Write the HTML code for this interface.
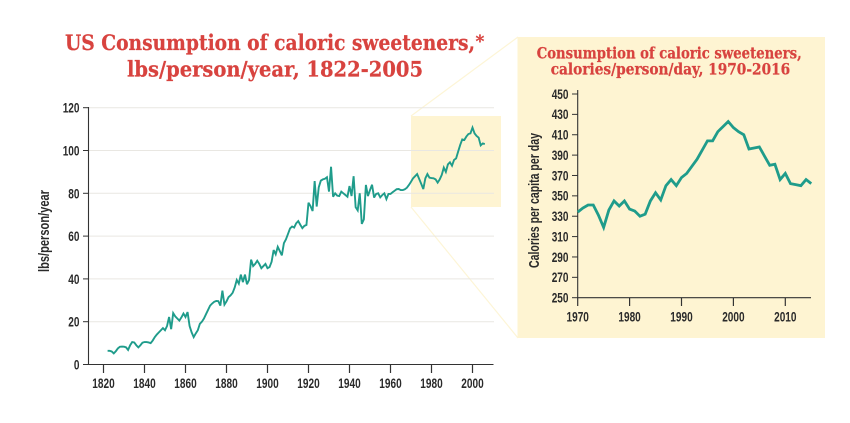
<!DOCTYPE html>
<html lang="en">
<head>
<meta charset="utf-8">
<title>US consumption of caloric sweeteners</title>
<style>
html,body{margin:0;padding:0;background:#fff;}
svg{display:block;}
.tick{font-family:"Liberation Sans",sans-serif;font-weight:700;fill:#2a2a2a;}
.ttl{font-family:"DejaVu Serif","Liberation Serif",serif;font-weight:700;fill:#d8433f;stroke:#d8433f;stroke-width:.25;}
</style>
</head>
<body>
<svg id="chart" width="850" height="423" viewBox="0 0 850 423" xmlns="http://www.w3.org/2000/svg">
  <rect x="0" y="0" width="850" height="423" fill="#ffffff"/>
  <line x1="411" y1="116" x2="518" y2="37" stroke="#fdf5d6" stroke-width="1.2"/>
  <line x1="411" y1="207" x2="518" y2="338" stroke="#fdf5d6" stroke-width="1.2"/>
  <rect x="411" y="116" width="90" height="91" fill="#fef4d2"/>
  <rect x="517.5" y="37" width="307.5" height="301" fill="#fef4d2"/>

  <text class="ttl" x="65" y="50" font-size="21" textLength="410" lengthAdjust="spacingAndGlyphs">US Consumption of caloric sweeteners,</text>
  <text class="ttl" x="475.5" y="47" font-size="17">*</text>
  <text class="ttl" x="127" y="76.5" font-size="21" textLength="296" lengthAdjust="spacingAndGlyphs">lbs/person/year, 1822-2005</text>
  <text class="ttl" x="536.7" y="58.3" font-size="15.5" textLength="265" lengthAdjust="spacingAndGlyphs">Consumption of caloric sweeteners,</text>
  <text class="ttl" x="550.7" y="74.3" font-size="15.5" textLength="239.5" lengthAdjust="spacingAndGlyphs">calories/person/day, 1970-2016</text>

  <text class="tick" transform="translate(49,231) rotate(-90)" text-anchor="middle" font-size="15" textLength="82" lengthAdjust="spacingAndGlyphs">lbs/person/year</text>
  <text class="tick" transform="translate(539,200.5) rotate(-90)" text-anchor="middle" font-size="15" textLength="135" lengthAdjust="spacingAndGlyphs">Calories per capita per day</text>

  <g id="main-grid"></g>
  <g id="main-axes"></g>
  <g id="inset-axes"></g>
  <g id="series"></g>
</svg>
<script>
const mainStartYear = 1822;
const mainValues = [
  6.4,6.4,6.1,5.2,6.2,7.5,8.3,8.4,8.3,8.0,
  6.8,9.0,10.5,10.3,9.0,8.0,9.0,10.2,10.5,10.5,
  10.3,10.0,11.2,12.8,14.0,15.0,16.0,17.0,16.0,18.0,
  22.2,16.5,24.0,22.5,21.5,20.5,22.0,23.8,22.2,24.5,
  18.0,15.0,12.8,14.5,16.0,19.0,20.0,21.5,23.5,25.5,
  27.5,28.5,29.3,29.7,29.6,27.5,34.5,28.0,29.5,31.5,
  32.3,33.5,36.0,39.5,37.8,42.0,38.5,42.0,37.5,39.5,
  49.0,46.0,47.0,48.5,47.0,45.0,46.0,47.0,45.0,45.5,
  48.0,53.5,51.5,55.0,53.0,51.0,56.7,58.5,61.0,63.6,
  64.5,64.0,66.0,67.0,65.3,63.7,64.8,65.2,75.6,74.0,
  71.7,85.7,73.8,82.8,85.9,86.5,86.8,87.5,80.8,92.4,
  78.4,80.0,78.9,78.7,80.8,80.0,79.2,78.4,83.4,78.7,
  88.0,73.5,72.0,80.0,65.7,67.8,83.9,78.7,81.5,84.0,
  78.0,79.7,80.0,78.1,79.2,80.0,77.3,79.7,79.7,80.5,
  81.2,81.9,82.0,81.5,81.5,81.9,82.6,83.9,85.4,87.0,
  88.0,89.0,86.7,84.4,82.0,87.0,89.0,87.3,87.1,87.0,
  86.5,85.0,86.5,88.6,92.0,90.0,93.5,94.5,92.9,95.6,
  96.3,99.5,102.6,105.2,104.9,106.5,107.7,108.0,110.7,108.0,
  106.8,106.0,102.4,103.3,103.0
];
const mainYTicks = [0,20,40,60,80,100,120];
const mainXTicks = [1820,1840,1860,1880,1900,1920,1940,1960,1980,2000];

const insetStartYear = 1970;
const insetValues = [
  334,338,341,341,331,319,336,345,340,345,
  337,335,330,332,345,353,346,360,366,360,
  368,372,379,386,395,404,404,413,418,423,
  417,413,410,396,397,398,389,380,381,366,
  372,362,361,360,366,362
];
const insetYTicks = [250,270,290,310,330,350,370,390,410,430,450];
const insetXTicks = [1970,1980,1990,2000,2010];

const mainX = y => 103.5 + (y - 1820) * 2.05;
const mainY = v => 364.5 - v * 2.14;
const insetX = y => 577.7 + (y - 1970) * 5.19;
const insetY = v => 297.7 - (v - 250) * 1.0185;

const NS = 'http://www.w3.org/2000/svg';
function mk(tag, parent, props, text) {
  const el = document.createElementNS(NS, tag);
  for (const k in props) el.setAttribute(k, props[k]);
  if (text !== undefined) el.textContent = text;
  document.getElementById(parent).appendChild(el);
  return el;
}
const AXIS = '#333333';
const DIGIT_W = 5.6;
function labelProps(x, y, anchor, size, str) {
  return {class: 'tick', x: x, y: y, 'text-anchor': anchor, 'font-size': size, textLength: str.length * DIGIT_W, lengthAdjust: 'spacingAndGlyphs'};
}

mainYTicks.forEach(t => {
  if (t > 0) {
    const g = mk('line', 'main-grid', {x1: 88.5, x2: 494, y1: mainY(t), y2: mainY(t), stroke: '#e9e7e2', 'stroke-width': 1});
    
    
  }
  const m = mk('line', 'main-axes', {x1: 83, x2: 88.5, y1: mainY(t), y2: mainY(t), stroke: AXIS, 'stroke-width': 1});
  
  
  const l = mk('text', 'main-axes', labelProps(79.5, mainY(t) + 5, 'end', 14, String(t)), String(t));
  
  
});
mainXTicks.forEach(t => {
  const m = mk('line', 'main-axes', {x1: mainX(t), x2: mainX(t), y1: 364.5, y2: 373, stroke: AXIS, 'stroke-width': 1.2});
  
  
  const l = mk('text', 'main-axes', labelProps(mainX(t), 388, 'middle', 14, String(t)), String(t));
  
  
});
const mainYAxis = mk('line', 'main-axes', {x1: 88.5, x2: 88.5, y1: 107, y2: 365, stroke: AXIS, 'stroke-width': 1.1});


const mainXAxis = mk('line', 'main-axes', {x1: 88, x2: 493.5, y1: 364.5, y2: 364.5, stroke: AXIS, 'stroke-width': 1.1});



insetYTicks.forEach(t => {
  const m = mk('line', 'inset-axes', {x1: 572, x2: 577.7, y1: insetY(t), y2: insetY(t), stroke: AXIS, 'stroke-width': 1});
  
  
  const l = mk('text', 'inset-axes', labelProps(568.5, insetY(t) + 4.8, 'end', 13.5, String(t)), String(t));
  
  
});
insetXTicks.forEach(t => {
  const m = mk('line', 'inset-axes', {x1: insetX(t), x2: insetX(t), y1: 297.7, y2: 306, stroke: AXIS, 'stroke-width': 1.2});
  
  
  const l = mk('text', 'inset-axes', labelProps(insetX(t), 321.5, 'middle', 14, String(t)), String(t));
  
  
});
const insetYAxis = mk('line', 'inset-axes', {x1: 577.7, x2: 577.7, y1: 90, y2: 298, stroke: AXIS, 'stroke-width': 1.1});


const insetXAxis = mk('line', 'inset-axes', {x1: 577, x2: 811, y1: 297.7, y2: 297.7, stroke: AXIS, 'stroke-width': 1.1});



const mainPts = mainValues.map((v, i) => mainX(mainStartYear + i).toFixed(2) + ',' + mainY(v).toFixed(2)).join(' ');
const mainLine = mk('polyline', 'series', {points: mainPts, fill: 'none', stroke: '#1f9c8b', 'stroke-width': 1.9, 'stroke-linejoin': 'miter', 'stroke-miterlimit': 3});



const insetPts = insetValues.map((v, i) => insetX(insetStartYear + i).toFixed(2) + ',' + insetY(v).toFixed(2)).join(' ');
const insetLine = mk('polyline', 'series', {points: insetPts, fill: 'none', stroke: '#1f9c8b', 'stroke-width': 2.8, 'stroke-linejoin': 'miter', 'stroke-miterlimit': 3});


</script>
</body>
</html>
